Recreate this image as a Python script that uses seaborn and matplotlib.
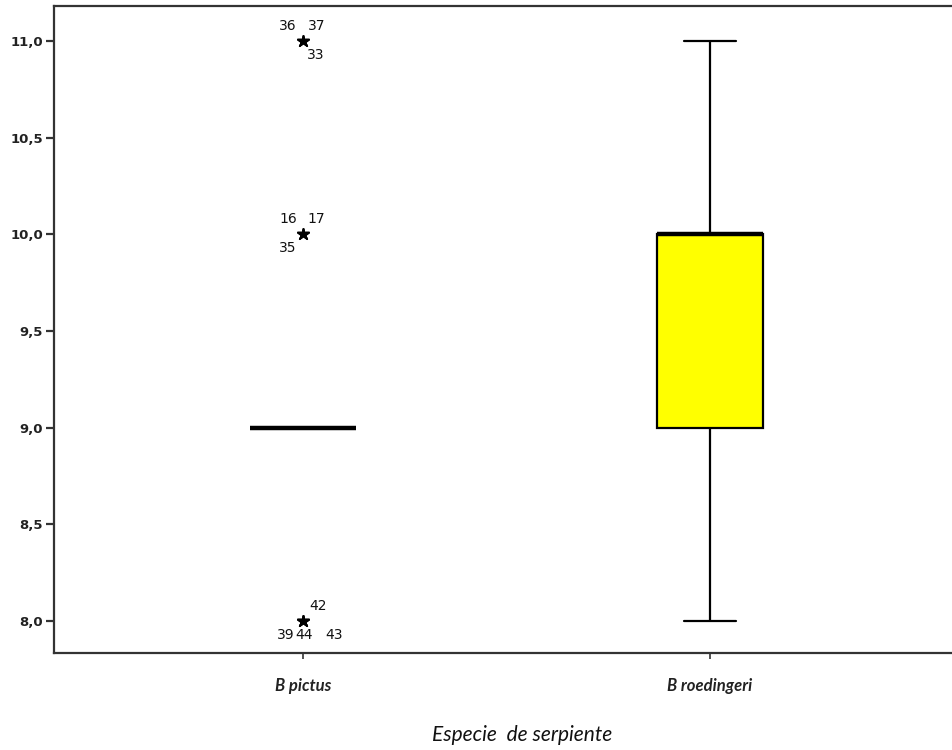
import numpy as np
import pandas as pd
import matplotlib
matplotlib.use("Agg")
import matplotlib.pyplot as plt
import seaborn as sns

# ---- data ----
species = ["B pictus", "B roedingeri"]
values = [8.0, 9.0, 10.0, 11.0]
# counts per value for each species
pictus_counts = [4, 16, 3, 3]
roedingeri_counts = [2, 5, 10, 2]
ytick_values = [8.0, 8.5, 9.0, 9.5, 10.0, 10.5, 11.0]
ytick_labels = ["8,0", "8,5", "9,0", "9,5", "10,0", "10,5", "11,0"]
xlabel = "Especie  de serpiente"

# outlier case labels (B pictus)
case_labels = ["36", "37", "33", "16", "17", "35", "42", "39", "44", "43"]
case_values = [11.0, 11.0, 11.0, 10.0, 10.0, 10.0, 8.0, 8.0, 8.0, 8.0]
# label offsets in pixels (layout only)
case_offsets = [(-15, 15), (14, 15), (13, -14),
                (-15, 15), (13, 15), (-15, -14),
                (15, 15), (-17, -14), (1, -14), (31, -14)]

rows = []
for sp, counts in zip(species, [pictus_counts, roedingeri_counts]):
    for v, c in zip(values, counts):
        rows += [(sp, v)] * c
df = pd.DataFrame(rows, columns=["especie", "valor"])

# ---- plot ----
sns.set_style("ticks")
plt.rcParams["font.family"] = ["DejaVu Sans"]

W, H = 952, 750
fig = plt.figure(figsize=(W / 100, H / 100), dpi=100)
ax_h = (653 - 6) / H
ax_w = (959 - 54) / W
ax = fig.add_axes([54 / W, 1 - 653 / H, ax_w, ax_h])

sns.boxplot(data=df, x="especie", y="valor", hue="especie",
            palette={"B pictus": "#FFFF00", "B roedingeri": "#FFFF00"},
            saturation=1, order=species, width=0.26, linecolor="black",
            linewidth=1.6, legend=False, whis=1.5, ax=ax,
            flierprops=dict(marker="*", markersize=9, markerfacecolor="black",
                            markeredgecolor="black"),
            medianprops=dict(linewidth=3.2, color="black"))

# case labels for outliers
for lab, val, (dx, dy) in zip(case_labels, case_values, case_offsets):
    ax.annotate(lab, xy=(0, val), xytext=(dx * 0.72, dy * 0.72),
                textcoords="offset points", ha="center", va="center",
                fontsize=10, color="#111111")

ax.set_xlim(-0.612, 1.612)
ax.set_ylim(7.835, 11.18)
ax.set_yticks(ytick_values)
ax.set_yticklabels(ytick_labels, fontsize=9.5, fontweight="bold", color="#222222")
ax.set_xticks(range(len(species)))
ax.set_xticklabels(species, fontsize=12, fontstyle="italic", fontweight="bold",
                   family=["Lato", "DejaVu Sans"], color="#222222")
ax.set_xlabel(xlabel, fontsize=15, fontstyle="italic", family=["Lato", "DejaVu Sans"],
              color="#111111")
ax.xaxis.label.set_va("center")
ax.xaxis.set_label_coords((522 - 54) / (ax_w * W), -(735 - 653) / (ax_h * H))
ax.set_ylabel("")

for s in ["left", "bottom", "top", "right"]:
    ax.spines[s].set_visible(True)
    ax.spines[s].set_linewidth(1.6)
    ax.spines[s].set_color("#333333")
ax.tick_params(axis="y", length=6, width=1.6, color="#333333", pad=2)
ax.tick_params(axis="x", length=4, width=1.2, color="#333333", pad=14)

fig.savefig("out.png", dpi=100)
